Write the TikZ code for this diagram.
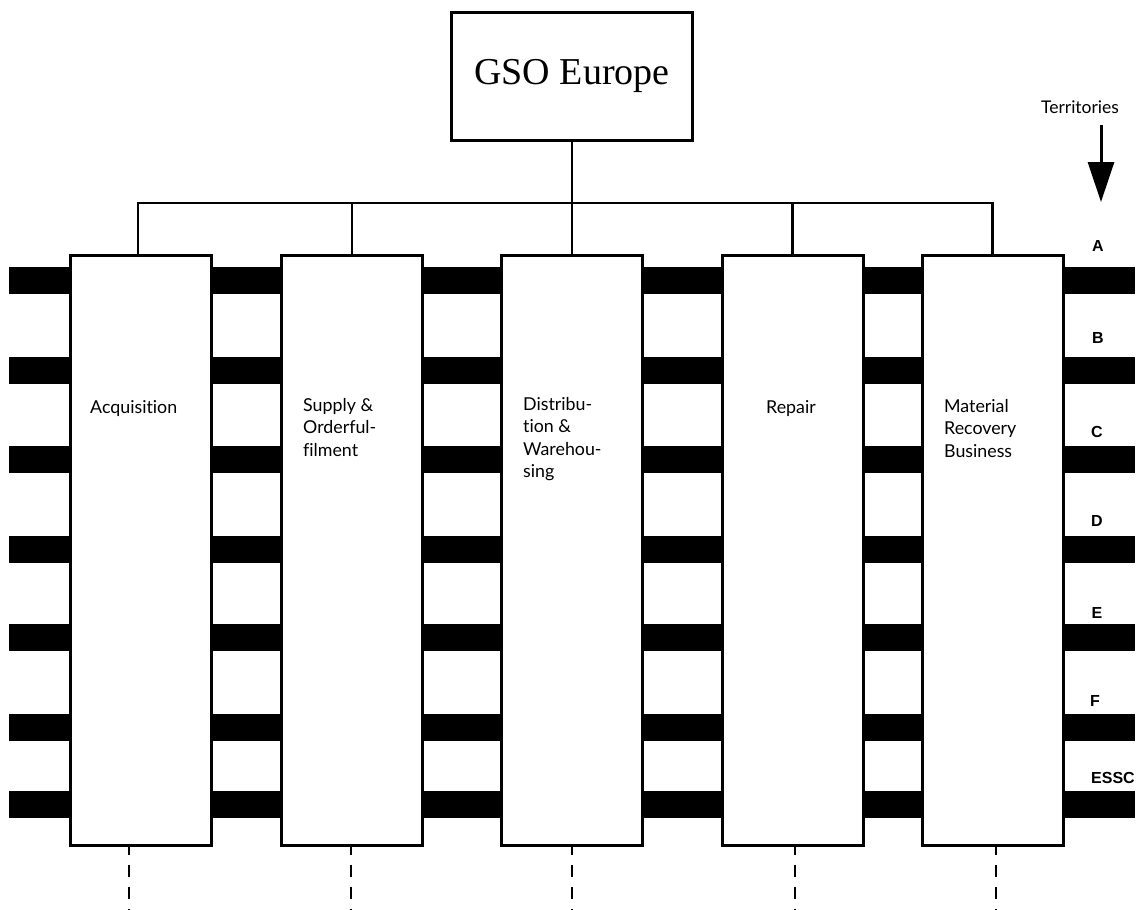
\documentclass[tikz,border=0pt]{standalone}
\usepackage{fontspec}
\setmainfont{Liberation Serif}
\newfontfamily\boxfont[Ligatures=NoCommon]{Lato}
\newfontfamily\terrfont{Liberation Sans}
\usetikzlibrary{arrows.meta}
\begin{document}
\begin{tikzpicture}[x=1pt,y=-1pt,
  column/.style={draw, line width=3pt, fill=white, inner sep=0pt,
    minimum width=141pt, minimum height=590pt},
  headbox/.style={draw, line width=3pt, fill=white, inner sep=0pt,
    minimum width=241pt, minimum height=128pt,
    font=\fontsize{38}{44}\selectfont},
  link/.style={line width=2.6pt, line join=miter},
  bar/.style={fill=black},
  coltext/.style={font=\boxfont\fontsize{17.8}{22.5}\selectfont,
    align=left, anchor=north west, inner sep=0pt},
  terr/.style={font=\terrfont\bfseries\fontsize{16}{18}\selectfont,
    inner sep=0pt, anchor=base},
  tail/.style={line width=2pt, dash pattern=on 12pt off 10pt, dash phase=4pt}]
\useasboundingbox (0,0) rectangle (1141,910);
\fill[white] (0,0) rectangle (1141,910);

% territory bars running behind the function columns
\foreach \y in {280,370.5,459,549,637.5,727.5,804.5}
  \fill[bar] (9,\y-13.5) rectangle (1135,\y+13.5);

% head office
\node[headbox] (gso) at (572,76) {GSO Europe};

% function columns
\node[column] (b1) at (141,550) {};
\node[column] (b2) at (352,550) {};
\node[column] (b3) at (572,550) {};
\node[column] (b4) at (792.5,550) {};
\node[column] (b5) at (992.5,550) {};

\node[coltext] (t1) at (90,400) {Acquisition};
\node[coltext] (t2) at (303,398) {Supply \&\\Orderful-\\filment};
\node[coltext] (t3) at (523,397) {Distribu-\\tion \&\\Warehou-\\sing};
\node[coltext] (t4) at (766,400) {Repair};
\node[coltext] (t5) at (944,399) {Material\\Recovery\\Business};

% organisation tree
\coordinate (bus) at (572,203);
\draw[link] (gso.south) -- (bus);
\draw[link] ([xshift=-3pt]b1.north) |- (bus) -| (b5.north);
\draw[link] (b2.north) -- (b2.north |- bus);
\draw[link] (b3.north) -- (bus);
\draw[link] (b4.north) -- (b4.north |- bus);

% dashed continuation below the columns
\draw[tail] ([xshift=-12pt]b1.south) -- ++(0,63);
\draw[tail] ([xshift=-1pt]b2.south) -- ++(0,63);
\draw[tail] (b3.south) -- ++(0,63);
\draw[tail] ([xshift=2pt]b4.south) -- ++(0,63);
\draw[tail] ([xshift=3pt]b5.south) -- ++(0,63);

% territories
\node[font=\boxfont\fontsize{17.5}{20}\selectfont, inner sep=0pt, anchor=base]
  (terrs) at (1080,113) {Territories};
\coordinate (arrtop) at (1101,125);
\coordinate (arrtip) at (1101,202);
\draw[line width=3pt, -{Triangle[width=26pt,length=40pt]}] (arrtop) -- (arrtip);

\node[terr] (ta) at (1098,251) {A};
\node[terr] (tb) at (1098,343) {B};
\node[terr] (tc) at (1097,437) {C};
\node[terr] (td) at (1097,526) {D};
\node[terr] (te) at (1097,618) {E};
\node[terr] (tf) at (1095,706) {F};
\node[terr] (tg) at (1113,783) {ESSC};
\end{tikzpicture}
\end{document}
